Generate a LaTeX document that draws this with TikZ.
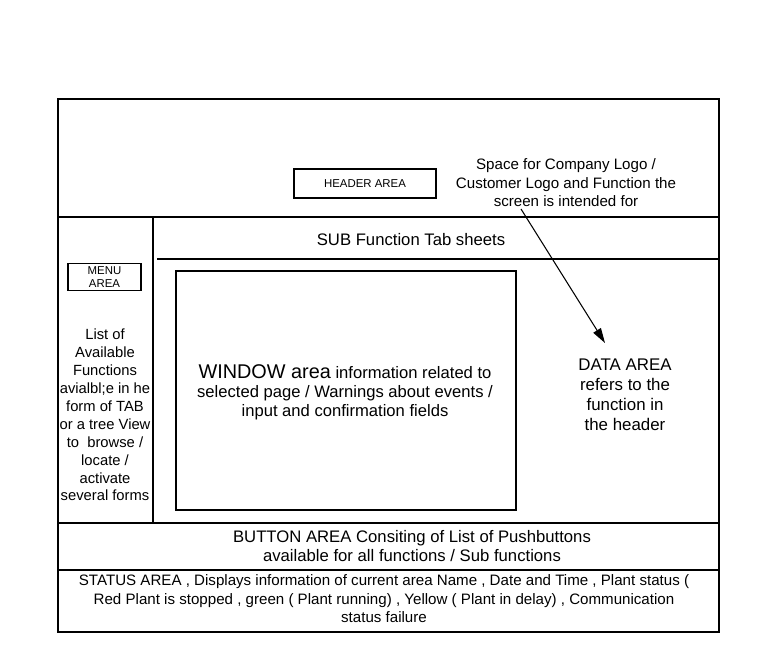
\documentclass[tikz,border=0pt]{standalone}
\usepackage{fontspec}
\setmainfont{Liberation Sans}
\usetikzlibrary{arrows.meta}
\tikzset{
  txt/.style={align=center,font=\fontsize{8.6}{10.5}\selectfont,inner sep=0pt},
  smallbox/.style={draw,line width=0.6pt,font=\fontsize{6.5}{7.6}\selectfont,align=center,inner sep=0pt}
}
\begin{document}
\begin{tikzpicture}[x=0.02cm,y=-0.02cm,line width=0.6pt]
\useasboundingbox (0,0) rectangle (760,664);
% frame and separators
\draw (58,99) rectangle (719,632);
\draw (58,217) -- (719,217);
\draw (153,217) -- (153,523);
\draw (157,259) -- (719,259);
\draw (58,523) -- (719,523);
\draw (58,570) -- (719,570);
% header
\node[smallbox,minimum width=142*0.02cm,minimum height=29*0.02cm] (header) at (365,183.5) {HEADER AREA};
\node[txt] (logo) at (566,183) {Space for Company Logo /\\Customer Logo and Function the\\screen is intended for};
\node[txt,font=\fontsize{9.5}{11}\selectfont] (subtab) at (411,240) {SUB Function Tab sheets};
% menu
\node[smallbox,minimum width=73*0.02cm,minimum height=27*0.02cm] (menu) at (104.5,277) {MENU\\AREA};
\node[txt,font=\fontsize{8.4}{10.2}\selectfont] (menulist) at (105,415) {List of\\Available\\Functions\\avialbl;e in he\\form of TAB\\or a tree View\\to\ \ browse /\\locate /\\activate\\several forms};
% window and data
\draw (176,271) rectangle (516,510);
\node[txt,font=\fontsize{9.45}{10.8}\selectfont] (window) at (345,392) {{\fontsize{11.3}{12}\selectfont WINDOW area} information related to\\selected page / Warnings about events /\\input and confirmation fields};
\node[txt,font=\fontsize{9.6}{11.3}\selectfont] (data) at (625,395) {DATA AREA\\refers to the\\function in\\the header};
\coordinate (tail) at (521,209);
\coordinate (head) at (605,343);
\draw[-{Triangle[length=8.5pt,width=5pt]}] (tail) -- (head);
% bottom
\node[txt,font=\fontsize{9.5}{10.8}\selectfont] (button) at (412,546.5) {BUTTON AREA Consiting of List of Pushbuttons\\available for all functions / Sub functions};
\node[txt] (status) at (384,599) {STATUS AREA , Displays information of current area Name , Date and Time , Plant status (\\Red Plant is stopped , green ( Plant running) , Yellow ( Plant in delay) , Communication\\status failure};
\end{tikzpicture}
\end{document}
